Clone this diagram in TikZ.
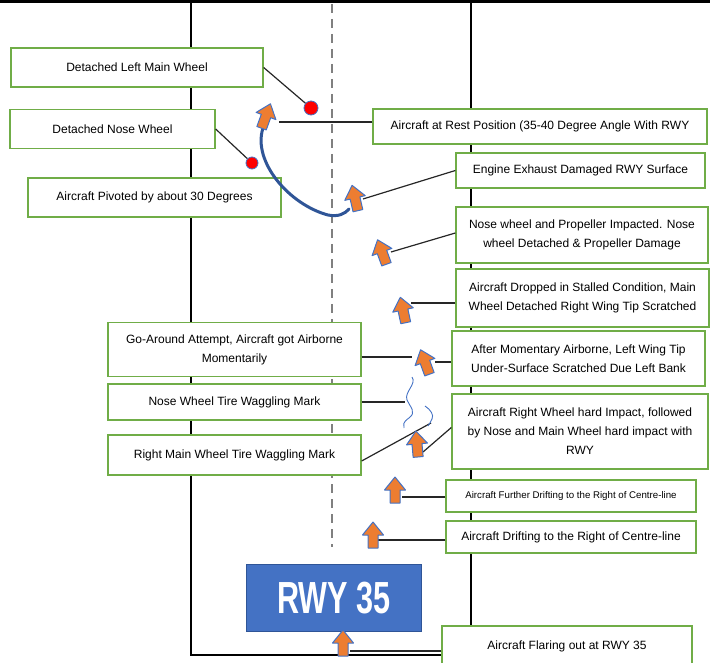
\documentclass[tikz,border=0pt]{standalone}
\usepackage{fontspec}
\setmainfont{Liberation Sans}
\newfontfamily\rwyfont[FakeStretch=0.68]{Liberation Sans}
\definecolor{boxgreen}{HTML}{70AD47}
\definecolor{offblue}{HTML}{4472C4}
\definecolor{darkblue}{HTML}{2F5597}
\definecolor{offorange}{HTML}{ED7D31}
\tikzset{
  box/.style={draw=boxgreen, line width=1.3pt, fill=white, align=center, inner sep=1pt,
    font=\fontsize{12}{19}\selectfont},
  conn/.style={draw=black!85, line width=1.2pt},
  redspot/.style={circle, fill=red, draw=offblue, line width=0.8pt, inner sep=0pt},
  arrowline/.style={draw=offblue, line width=1pt, fill=offorange, line join=round},
  squig/.style={draw=offblue, line width=0.9pt},
  uparrow/.pic={
    \path[arrowline] (-5,13) -- (5,13) -- (5,0) -- (10.5,0) -- (0,-13) -- (-10.5,0) -- (-5,0) -- cycle;
  }
}
\begin{document}
\begin{tikzpicture}[x=1pt,y=-1pt]
\useasboundingbox (0,0) rectangle (710,663);
% runway
\draw[line width=3pt] (0,2) -- (710,2);
\draw[line width=1.3pt] (191,2) -- (191,655) -- (447,655);
\draw[line width=1.3pt] (471,2) -- (471,626);
\draw[line width=1.2pt, black!50, dash pattern=on 9pt off 6pt] (332,4) -- (332,547);

% boxes left
\node[box, minimum width=252pt, minimum height=39pt] (b1) at (137,67.5) {Detached Left Main Wheel};
\node[box, minimum width=205pt, minimum height=39pt] (b2) at (112.5,129) {Detached Nose Wheel};
\node[box, minimum width=253pt, minimum height=39pt] (b3) at (154.5,197.5) {Aircraft Pivoted by about 30 Degrees};
\node[box, minimum width=253pt, minimum height=54pt] (b13) at (234.5,349.5) {Go-Around Attempt, Aircraft got Airborne\\Momentarily};
\node[box, minimum width=253pt, minimum height=36pt] (b14) at (234.5,402) {Nose Wheel Tire Waggling Mark};
\node[box, minimum width=253pt, minimum height=40pt] (b15) at (234.5,455) {Right Main Wheel Tire Waggling Mark};

% boxes right
\node[box, minimum width=334pt, minimum height=35pt] (b4) at (540,126.5) {Aircraft at Rest Position (35-40 Degree Angle With RWY};
\node[box, minimum width=249pt, minimum height=35pt] (b5) at (580.5,170.5) {Engine Exhaust Damaged RWY Surface};
\node[box, minimum width=252pt, minimum height=56pt] (b6) at (582,235) {Nose wheel and Propeller Impacted. Nose\\wheel Detached \& Propeller Damage};
\node[box, minimum width=253pt, minimum height=58pt] (b7) at (582.5,298) {Aircraft Dropped in Stalled Condition, Main\\Wheel Detached Right Wing Tip Scratched};
\node[box, minimum width=253pt, minimum height=55pt] (b8) at (578.5,358.5) {After Momentary Airborne, Left Wing Tip\\Under-Surface Scratched Due Left Bank};
\node[box, minimum width=256pt, minimum height=75pt] (b9) at (580,431.5) {Aircraft Right Wheel hard Impact, followed\\by Nose and Main Wheel hard impact with\\RWY};
\node[box, minimum width=250pt, minimum height=32pt, font=\fontsize{9.7}{12}\selectfont] (b10) at (571,496) {Aircraft Further Drifting to the Right of Centre-line};
\node[box, minimum width=250pt, minimum height=32pt] (b11) at (571,537) {Aircraft Drifting to the Right of Centre-line};
\node[box, minimum width=250pt, minimum height=40pt] (b12) at (567,646) {Aircraft Flaring out at RWY 35};

% RWY label
\node[fill=offblue, draw=darkblue, line width=0.8pt, minimum width=175pt, minimum height=67pt,
  text=white, font=\rwyfont\bfseries\fontsize{45}{45}\selectfont] (rwy) at (334,598) {RWY 35};

% red dots
\node[redspot, minimum size=14pt] (d1) at (311,108) {};
\node[redspot, minimum size=12pt] (d2) at (252,163) {};

% connector ends
\coordinate (e4) at (279,122);
\coordinate (e5) at (363,199);
\coordinate (e6) at (391,252);
\coordinate (e7) at (411,303);
\coordinate (e8) at (435,362);
\coordinate (e13) at (412,357);
\coordinate (e14) at (405,402);
\coordinate (e15) at (431,423);
\coordinate (e9) at (423,452);
\coordinate (e10) at (402,497);
\coordinate (e11) at (378,540);
\coordinate (e12) at (350,651);

% connectors
\draw[conn] (b1.east) -- (d1);
\draw[conn] (b2.east) -- (d2);
\draw[conn] (b4.west |- e4) -- (e4);
\draw[conn] (b5.west) -- (e5);
\draw[conn] ([yshift=2pt]b6.west) -- (e6);
\draw[conn] (b7.west |- e7) -- (e7);
\draw[conn] (b8.west |- e8) -- (e8);
\draw[conn] (b13.east |- e13) -- (e13);
\draw[conn] (b14.east) -- (e14);
\draw[conn] ([yshift=-6pt]b15.east) -- (e15);
\draw[conn] ([yshift=4pt]b9.west) -- (e9);
\draw[conn] (b10.west |- e10) -- (e10);
\draw[conn] (b11.west |- e11) -- (e11);
\draw[conn] (b12.west |- e12) -- (e12);

% pivot curve
\draw[darkblue, line width=3pt, line cap=round]
  (263,128) .. controls (252,162) and (290,205) .. (328,215)
  .. controls (338,217) and (345,214) .. (349,209);

% squiggles
\draw[squig] (412,377) .. controls (417,384) and (404,392) .. (407,400)
  .. controls (410,407) and (417,412) .. (409,418) .. controls (403,422) and (403,425) .. (404,428);
\draw[squig] (425,406) .. controls (431,410) and (434,415) .. (432,419)
  .. controls (431,422) and (429,424) .. (428,426);

% aircraft arrows
\pic[rotate=-20] at (266,116) {uparrow};
\pic[rotate=13] at (355,198) {uparrow};
\pic[rotate=20] at (382,252) {uparrow};
\pic[rotate=12] at (403,310) {uparrow};
\pic[rotate=20] at (425,362) {uparrow};
\pic[rotate=5] at (417,444) {uparrow};
\pic at (395,490) {uparrow};
\pic at (373,535) {uparrow};
\pic at (343,643) {uparrow};
\end{tikzpicture}
\end{document}
